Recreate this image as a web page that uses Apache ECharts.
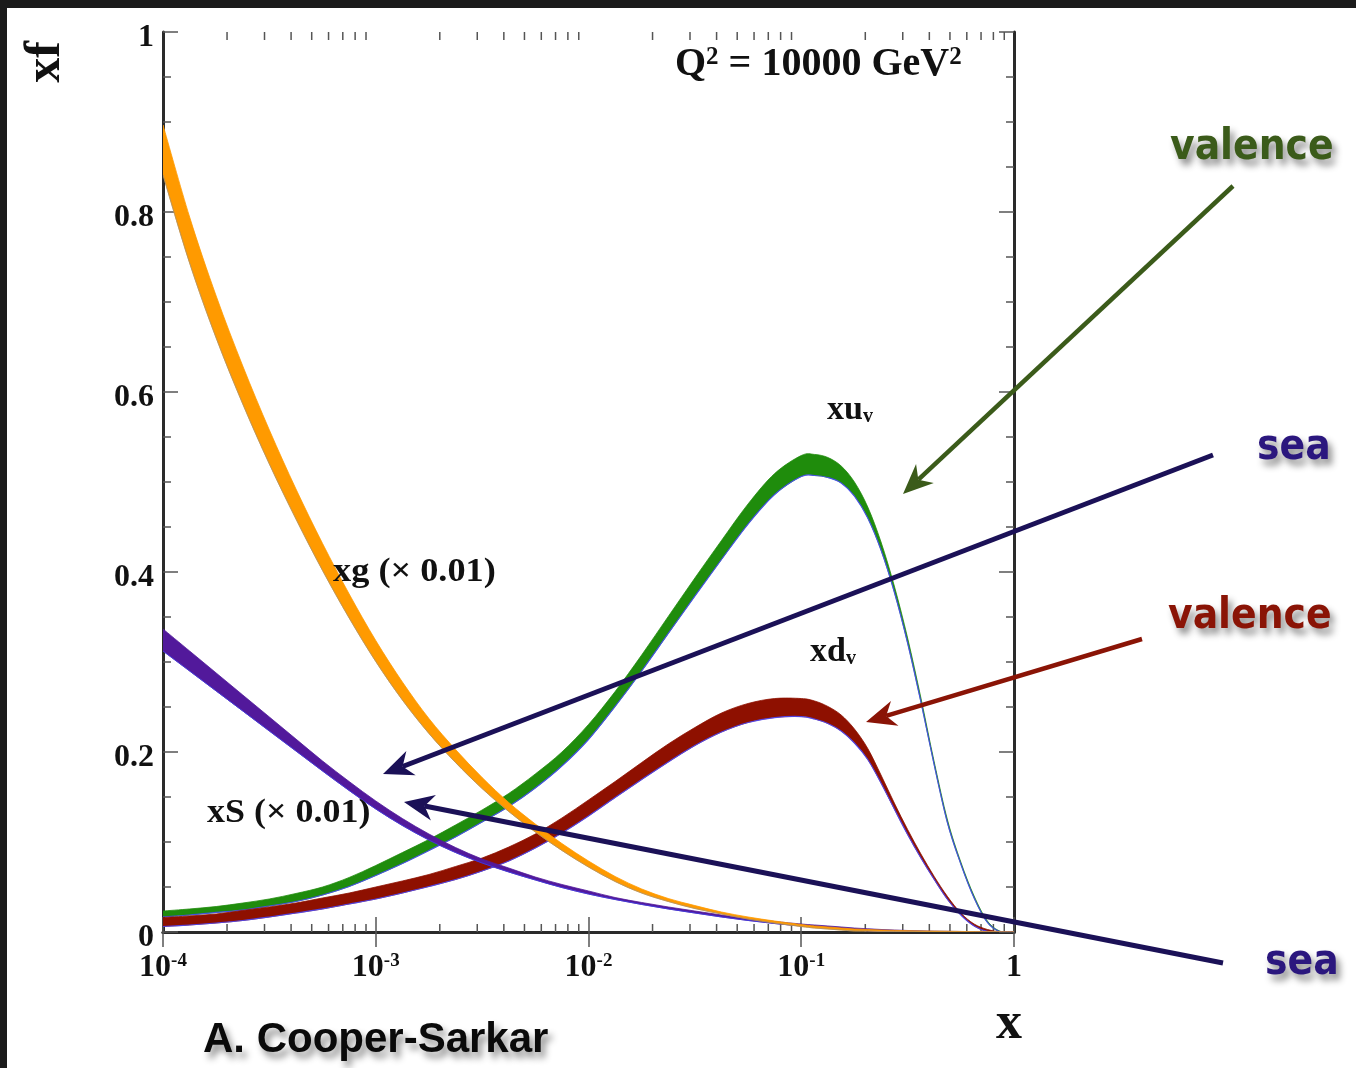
<!DOCTYPE html>
<html><head><meta charset="utf-8">
<script src="https://cdn.jsdelivr.net/npm/echarts@6/dist/echarts.min.js"></script>
<style>html,body{margin:0;padding:0;background:#fff;}#c{width:1356px;height:1068px;}</style>
</head><body><div id="c"></div>
<script>
// ---------- data ----------
const xGrid = [1e-4, 1.334e-4, 1.778e-4, 2.371e-4, 3.162e-4, 4.217e-4, 5.623e-4, 7.499e-4,
  1e-3, 1.334e-3, 1.778e-3, 2.371e-3, 3.162e-3, 4.217e-3, 5.623e-3, 7.499e-3,
  1e-2, 1.334e-2, 1.778e-2, 2.371e-2, 3.162e-2, 4.217e-2, 5.623e-2, 7.499e-2,
  0.1, 0.1155, 0.1334, 0.154, 0.1778, 0.2054, 0.2371, 0.2738, 0.3162, 0.3652,
  0.4217, 0.487, 0.5623, 0.6494, 0.7499, 0.866, 1.0];

// xg (x 0.01) band
const xgUpper = [0.8967, 0.7944, 0.7067, 0.6289, 0.5578, 0.4922, 0.4317, 0.3756,
  0.3239, 0.2778, 0.2372, 0.2028, 0.1717, 0.1439, 0.1200, 0.0983,
  0.0789, 0.0617, 0.0478, 0.0372, 0.0294, 0.0222, 0.0167, 0.0122,
  0.0083, 0.0067, 0.0056, 0.0044, 0.0033, 0.0028, 0.0022, 0.0018, 0.0015, 0.0012,
  0.0010, 0.0008, 0.0006, 0.0004, 0.0002, 0.0001, 0];
const xgLower = [0.8411, 0.7433, 0.6600, 0.5867, 0.5200, 0.4589, 0.4017, 0.3489,
  0.3006, 0.2578, 0.2206, 0.1883, 0.1594, 0.1339, 0.1111, 0.0906,
  0.0722, 0.0561, 0.0433, 0.0339, 0.0261, 0.0200, 0.0144, 0.0100,
  0.0061, 0.0044, 0.0033, 0.0022, 0.0011, 0.0011, 0.0006, 0.0004, 0.0002, 0.0001,
  0, 0, 0, 0, 0, 0, 0];

// xS (x 0.01) band
const xsUpper = [0.3367, 0.3122, 0.2878, 0.2633, 0.2389, 0.2144, 0.1900, 0.1672,
  0.1456, 0.1261, 0.1089, 0.0939, 0.0811, 0.0711, 0.0611, 0.0528,
  0.0456, 0.0383, 0.0328, 0.0278, 0.0233, 0.0189, 0.0150, 0.0117,
  0.0089, 0.0078, 0.0067, 0.0056, 0.0044, 0.0036, 0.0028, 0.0022, 0.0017, 0.0013,
  0.0010, 0.0008, 0.0006, 0.0004, 0.0002, 0.0001, 0];
const xsLower = [0.3122, 0.2900, 0.2678, 0.2456, 0.2233, 0.2011, 0.1789, 0.1572,
  0.1367, 0.1183, 0.1022, 0.0883, 0.0767, 0.0667, 0.0578, 0.0494,
  0.0422, 0.0361, 0.0306, 0.0256, 0.0211, 0.0167, 0.0128, 0.0094,
  0.0067, 0.0056, 0.0044, 0.0033, 0.0022, 0.0014, 0.0008, 0.0004, 0.0002, 0.0001,
  0, 0, 0, 0, 0, 0, 0];

// xu_v band
const xuvUpper = [0.0233, 0.0256, 0.0283, 0.0322, 0.0367, 0.0428, 0.0500, 0.0606,
  0.0739, 0.0883, 0.1028, 0.1189, 0.1356, 0.1539, 0.1756, 0.2000,
  0.2306, 0.2672, 0.3078, 0.3506, 0.3933, 0.4350, 0.4756, 0.5094,
  0.5294, 0.5306, 0.5272, 0.5178, 0.5000, 0.4722, 0.4333, 0.3844, 0.3267, 0.2600,
  0.1889, 0.1244, 0.0778, 0.0400, 0.0122, 0.0006, 0];
const xuvLower = [0.0167, 0.0189, 0.0217, 0.0244, 0.0289, 0.0339, 0.0411, 0.0506,
  0.0628, 0.0761, 0.0906, 0.1056, 0.1222, 0.1394, 0.1600, 0.1844,
  0.2139, 0.2506, 0.2900, 0.3317, 0.3733, 0.4139, 0.4533, 0.4861,
  0.5061, 0.5072, 0.5050, 0.4989, 0.4844, 0.4600, 0.4244, 0.3778, 0.3211, 0.2556,
  0.1856, 0.1211, 0.0756, 0.0378, 0.0106, 0, 0];

// xd_v band
const xdvUpper = [0.0161, 0.0178, 0.0200, 0.0239, 0.0278, 0.0322, 0.0378, 0.0433,
  0.0500, 0.0567, 0.0639, 0.0728, 0.0822, 0.0944, 0.1089, 0.1267,
  0.1467, 0.1672, 0.1883, 0.2089, 0.2272, 0.2433, 0.2539, 0.2594,
  0.2594, 0.2567, 0.2506, 0.2411, 0.2256, 0.2039, 0.1744, 0.1433, 0.1139, 0.0867,
  0.0617, 0.0394, 0.0211, 0.0089, 0.0028, 0, 0];
const xdvLower = [0.0061, 0.0078, 0.0100, 0.0128, 0.0167, 0.0211, 0.0256, 0.0311,
  0.0367, 0.0433, 0.0506, 0.0583, 0.0678, 0.0789, 0.0933, 0.1100,
  0.1289, 0.1494, 0.1694, 0.1889, 0.2072, 0.2222, 0.2328, 0.2383,
  0.2394, 0.2367, 0.2317, 0.2233, 0.2100, 0.1917, 0.1656, 0.1367, 0.1083, 0.0822,
  0.0583, 0.0361, 0.0189, 0.0067, 0.0006, 0, 0];

// ticks / labels
const xTickBases = ['10', '10', '10', '10', '1'];
const xTickExps = ['-4', '-3', '-2', '-1', ''];
const xMinorTicks = [2e-4, 3e-4, 4e-4, 5e-4, 6e-4, 7e-4, 8e-4, 9e-4,
  2e-3, 3e-3, 4e-3, 5e-3, 6e-3, 7e-3, 8e-3, 9e-3,
  2e-2, 3e-2, 4e-2, 5e-2, 6e-2, 7e-2, 8e-2, 9e-2,
  0.2, 0.3, 0.4, 0.5, 0.6, 0.7, 0.8, 0.9];
const yTickLabels = ['0', '0.2', '0.4', '0.6', '0.8', '1'];

// ---------- drawing ----------
const SERIF = "'Liberation Serif', 'Times New Roman', serif";
const SANS = "'Liberation Sans', Arial, sans-serif";
const COND = "'DejaVu Sans Condensed', 'DejaVu Sans', sans-serif";

function spline(pts) {
  let d = '';
  for (let i = 0; i < pts.length - 1; i++) {
    const p0 = pts[i - 1] || pts[i], p1 = pts[i], p2 = pts[i + 1], p3 = pts[i + 2] || pts[i + 1];
    const c1 = [p1[0] + (p2[0] - p0[0]) / 6, p1[1] + (p2[1] - p0[1]) / 6];
    const c2 = [p2[0] - (p3[0] - p1[0]) / 6, p2[1] - (p3[1] - p1[1]) / 6];
    d += ' C' + c1[0] + ',' + c1[1] + ' ' + c2[0] + ',' + c2[1] + ' ' + p2[0] + ',' + p2[1];
  }
  return d;
}

function bandSeries(name, upper, lower, fill, edge, edgeWidth) {
  return {
    type: 'custom', name: name, clip: true, silent: true,
    data: xGrid.map((x, i) => [x, lower[i], upper[i]]),
    encode: { x: 0, y: [1, 2] },
    renderItem: function (params, api) {
      if (params.dataIndex !== 0) return null;
      const up = xGrid.map((x, i) => api.coord([x, upper[i]]));
      const lo = xGrid.map((x, i) => api.coord([x, lower[i]]));
      const loRev = lo.slice().reverse();
      const pathBand = 'M' + up[0][0] + ',' + up[0][1] + spline(up) +
        ' L' + loRev[0][0] + ',' + loRev[0][1] + spline(loRev) + ' Z';
      const pathEdge = 'M' + lo[0][0] + ',' + lo[0][1] + spline(lo);
      return {
        type: 'group', children: [
          { type: 'path', shape: { pathData: pathBand }, style: { fill: fill, stroke: fill, lineWidth: 0.8 } },
          { type: 'path', shape: { pathData: pathEdge }, style: { fill: null, stroke: edge, lineWidth: edgeWidth } }
        ]
      };
    }
  };
}

function arrow(x1, y1, x2, y2, color, w) {
  const dx = x2 - x1, dy = y2 - y1, L = Math.hypot(dx, dy);
  const ux = dx / L, uy = dy / L, nx = -uy, ny = ux;
  const hl = 30, hw = 13, notch = 21;
  return [
    { type: 'line', z: 100, shape: { x1: x1, y1: y1, x2: x2 - ux * notch, y2: y2 - uy * notch },
      style: { stroke: color, lineWidth: w } },
    { type: 'polygon', z: 100, shape: { points: [[x2, y2],
      [x2 - ux * hl + nx * hw, y2 - uy * hl + ny * hw],
      [x2 - ux * notch, y2 - uy * notch],
      [x2 - ux * hl - nx * hw, y2 - uy * hl - ny * hw]] },
      style: { fill: color } }
  ];
}

function txt(text, x, y, font, color, extra, sx) {
  return { type: 'text', z: 100, x: x, y: y, scaleX: sx || 1, style: Object.assign({
    text: text, x: 0, y: 0, font: font, fill: color, verticalAlign: 'middle', align: 'left'
  }, extra || {}) };
}

const shadow = { textShadowColor: 'rgba(0,0,0,0.45)', textShadowBlur: 7, textShadowOffsetX: 4, textShadowOffsetY: 6 };
const subRich = {
  b: { fontFamily: SERIF, fontWeight: 'bold', fontSize: 34, fill: '#111' },
  s: { fontFamily: SERIF, fontWeight: 'bold', fontSize: 20, fill: '#111', verticalAlign: 'bottom' }
};

const graphics = [
  { type: 'rect', z: 200, shape: { x: 0, y: 0, width: 1356, height: 8 }, style: { fill: '#1b1b1b' } },
  { type: 'rect', z: 200, shape: { x: 0, y: 0, width: 7, height: 1068 }, style: { fill: '#1b1b1b' } },
  // title
  { type: 'text', z: 100, style: { x: 675, y: 65, verticalAlign: 'middle',
    text: '{b|Q}{s|2}{b| = 10000 GeV}{s|2}', rich: {
      b: { fontFamily: SERIF, fontWeight: 'bold', fontSize: 40, fill: '#111' },
      s: { fontFamily: SERIF, fontWeight: 'bold', fontSize: 25, fill: '#111', verticalAlign: 'top' } } } },
  // axis names
  { type: 'text', z: 100, x: 46, y: 62, rotation: Math.PI / 2, style: { x: 0, y: 0, text: 'xf',
    font: 'bold 50px ' + SERIF, fill: '#111', align: 'center', verticalAlign: 'middle' } },
  txt('x', 1009, 1025, 'bold 52px ' + SERIF, '#111', { align: 'center' }),
  // curve labels
  txt('xg (\u00d7 0.01)', 333, 572, 'bold 33px ' + SERIF, '#111', null, 1.1),
  txt('xS (\u00d7 0.01)', 207, 813, 'bold 33px ' + SERIF, '#111', null, 1.09),
  { type: 'text', z: 100, style: { x: 827, y: 410, verticalAlign: 'middle', text: '{b|xu}{s|v}', rich: subRich } },
  { type: 'text', z: 100, style: { x: 810, y: 652, verticalAlign: 'middle', text: '{b|xd}{s|v}', rich: subRich } },
  // annotations
  txt('valence', 1170, 148, 'bold 42px ' + COND, '#3b5b1a', shadow),
  txt('sea', 1257, 448, 'bold 42px ' + COND, '#2b177e', shadow),
  txt('valence', 1168, 617, 'bold 42px ' + COND, '#8a1406', shadow),
  txt('sea', 1265, 963, 'bold 42px ' + COND, '#2b177e', shadow),
  txt('A. Cooper-Sarkar', 203, 1040, 'bold 42px ' + SANS, '#0a0a0a', shadow)
].concat(
  arrow(1233, 186, 903, 494, '#3b5b1a', 4.5),
  arrow(1213, 455, 383, 774, '#1b1157', 5),
  arrow(1142, 639, 866, 722, '#8a1406', 4.5),
  arrow(1223, 963, 404, 802, '#1b1157', 5)
);

const axisLineStyle = { color: '#2a2a2a', width: 3 };
const tickStyle = { color: '#555', width: 1.5 };

const option = {
  backgroundColor: '#ffffff',
  animation: false,
  grid: { left: 163, top: 32, width: 851, height: 900, containLabel: false, outerBoundsMode: 'none' },
  xAxis: [
    { type: 'log', logBase: 10, min: 1e-4, max: 1, position: 'bottom',
      axisLine: { show: true, lineStyle: axisLineStyle },
      axisTick: { show: true, inside: true, length: 15, lineStyle: tickStyle },
      splitLine: { show: false },
      axisLabel: { margin: 20,
        formatter: function (v) {
          const i = Math.round(Math.log10(v) + 4);
          return xTickExps[i] ? '{b|' + xTickBases[i] + '}{s|' + xTickExps[i] + '}' : '{b|' + xTickBases[i] + '}';
        },
        rich: {
          b: { fontFamily: SERIF, fontWeight: 'bold', fontSize: 32, color: '#111' },
          s: { fontFamily: SERIF, fontWeight: 'bold', fontSize: 19, color: '#111', verticalAlign: 'top' }
        } } },
    { type: 'log', logBase: 10, min: 1e-4, max: 1, position: 'top',
      axisLine: { show: true, lineStyle: axisLineStyle },
      axisTick: { show: true, inside: true, length: 15, lineStyle: tickStyle },
      splitLine: { show: false }, axisLabel: { show: false } }
  ],
  yAxis: [
    { type: 'value', min: 0, max: 1, interval: 0.2, position: 'left',
      axisLine: { show: true, lineStyle: axisLineStyle },
      axisTick: { show: true, inside: true, length: 15, lineStyle: tickStyle },
      minorTick: { show: true, splitNumber: 4, length: 8, lineStyle: tickStyle },
      splitLine: { show: false },
      axisLabel: { margin: 9,
        formatter: function (v) { return '{a|' + yTickLabels[Math.round(v / 0.2)] + '}'; },
        rich: { a: { fontFamily: SERIF, fontWeight: 'bold', fontSize: 32, color: '#111', padding: [12, 0, 0, 0] } } } },
    { type: 'value', min: 0, max: 1, interval: 0.2, position: 'right',
      axisLine: { show: true, lineStyle: axisLineStyle },
      axisTick: { show: true, inside: true, length: 15, lineStyle: tickStyle },
      minorTick: { show: true, splitNumber: 4, length: 8, lineStyle: tickStyle },
      splitLine: { show: false }, axisLabel: { show: false } }
  ],
  series: [
    {
      type: 'custom', name: 'minor ticks', silent: true, clip: false,
      data: xMinorTicks.map(v => [v, 0]), encode: { x: 0, y: 1 },
      renderItem: function (params, api) {
        const v = api.value(0);
        const b = api.coord([v, 0]), t = api.coord([v, 1]);
        return { type: 'group', children: [
          { type: 'line', shape: { x1: b[0], y1: b[1], x2: b[0], y2: b[1] - 8 }, style: { stroke: '#555', lineWidth: 1.5 } },
          { type: 'line', shape: { x1: t[0], y1: t[1], x2: t[0], y2: t[1] + 8 }, style: { stroke: '#555', lineWidth: 1.5 } }
        ] };
      }
    },
    bandSeries('xu_v', xuvUpper, xuvLower, '#1f8c0c', 'rgba(70,70,255,0.85)', 1.2),
    bandSeries('xd_v', xdvUpper, xdvLower, '#8e1000', 'rgba(70,70,255,0.85)', 1.2),
    bandSeries('xS', xsUpper, xsLower, '#52199b', 'rgba(60,60,230,0.8)', 1),
    bandSeries('xg', xgUpper, xgLower, '#ff9a00', 'rgba(140,140,140,0.6)', 1)
  ],
  graphic: graphics
};

const chart = echarts.init(document.getElementById('c'), null, { renderer: 'canvas' });
chart.setOption(option);
</script>
</body></html>
